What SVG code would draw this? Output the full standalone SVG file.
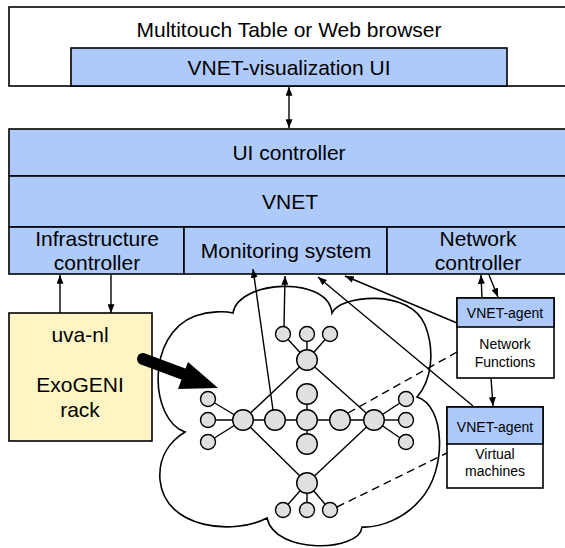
<svg xmlns="http://www.w3.org/2000/svg" width="565" height="548" viewBox="0 0 565 548">
  <style>
    .box { stroke: #000; stroke-width: 1.6; }
    .blue { fill: #aecafb; }
    .white { fill: #fff; }
    .yellow { fill: #fff5c4; }
    .t { font-family: "Liberation Sans", Arial, sans-serif; fill: #000; text-anchor: middle; }
    .big { font-size: 21px; }
    .small { font-size: 14px; }
    .edge { stroke: #000; stroke-width: 1.4; fill: none; }
    .dash { stroke: #000; stroke-width: 1.4; fill: none; stroke-dasharray: 8 5; }
    .n { fill: #e0e0e0; stroke: #000; stroke-width: 1.4; }
    .cloud { fill: #fff; stroke: #000; stroke-width: 1.6; }
  </style>
  <defs>
    <marker id="head" viewBox="0 0 10 8" refX="10" refY="4" markerWidth="9" markerHeight="7" markerUnits="userSpaceOnUse" orient="auto-start-reverse">
      <path d="M0,0 L10,4 L0,8 Z" fill="#000"/>
    </marker>
  </defs>

  <!-- client side -->
  <g id="browser">
    <rect class="box white" x="9" y="7" width="570" height="79"/>
    <text class="t big" x="289" y="37">Multitouch Table or Web browser</text>
  </g>
  <g id="vnet-visualization-ui">
    <rect class="box blue" x="71" y="48" width="436" height="38"/>
    <text class="t big" x="289" y="75">VNET-visualization UI</text>
  </g>

  <!-- control stack -->
  <g id="ui-controller">
    <rect class="box blue" x="9" y="129" width="570" height="47"/>
    <text class="t big" x="289" y="160">UI controller</text>
  </g>
  <g id="vnet">
    <rect class="box blue" x="9" y="176" width="570" height="51"/>
    <text class="t big" x="290" y="209">VNET</text>
  </g>
  <g id="infrastructure-controller">
    <rect class="box blue" x="9" y="227" width="175" height="47"/>
    <text class="t big" x="97" y="246">Infrastructure</text>
    <text class="t big" x="97" y="270">controller</text>
  </g>
  <g id="monitoring-system">
    <rect class="box blue" x="184" y="227" width="203" height="47"/>
    <text class="t big" x="286" y="258">Monitoring system</text>
  </g>
  <g id="network-controller">
    <rect class="box blue" x="387" y="227" width="192" height="47"/>
    <text class="t big" x="478" y="246">Network</text>
    <text class="t big" x="478" y="270">controller</text>
  </g>

  <!-- rack -->
  <g id="uva-nl">
    <rect class="box yellow" x="9" y="313" width="143" height="128"/>
    <text class="t big" x="80" y="342">uva-nl</text>
    <text class="t big" x="80" y="392">ExoGENI</text>
    <text class="t big" x="80" y="417">rack</text>
  </g>

  <!-- virtual network cloud -->
  <g id="cloud">
    <path class="cloud" d="M185,432 C150,420 145,335 195,316 C210,311 225,311 233,313
      C238,280 328,275 332,313
      C340,295 410,288 425,325 C435,350 432,380 417,397
      C445,405 448,470 420,500 C405,518 380,528 362,527
      C360,552 275,555 267,518
      C235,535 165,530 160,480 C158,455 172,440 185,432 Z"/>
  </g>

  <!-- agents -->
  <g id="agent-network-functions">
    <rect class="box white" x="457" y="298" width="97" height="80"/>
    <rect class="box blue" x="457" y="298" width="97" height="29"/>
    <text class="t small" x="505" y="318">VNET-agent</text>
    <text class="t small" x="505" y="349">Network</text>
    <text class="t small" x="505" y="367">Functions</text>
  </g>
  <g id="agent-virtual-machines">
    <rect class="box white" x="447" y="407" width="96" height="81"/>
    <rect class="box blue" x="447" y="407" width="96" height="37"/>
    <text class="t small" x="495" y="432">VNET-agent</text>
    <text class="t small" x="495" y="459">Virtual</text>
    <text class="t small" x="495" y="476">machines</text>
  </g>

  <!-- connectors -->
  <g id="connectors">
    <line class="edge" x1="289" y1="87" x2="289" y2="128" marker-start="url(#head)" marker-end="url(#head)"/>
    <line class="edge" x1="60" y1="313" x2="60" y2="275" marker-end="url(#head)"/>
    <line class="edge" x1="111" y1="275" x2="111" y2="313" marker-end="url(#head)"/>
    <line class="edge" x1="482" y1="298" x2="481" y2="275" marker-end="url(#head)"/>
    <line class="edge" x1="489" y1="275" x2="498" y2="297" marker-end="url(#head)"/>
    <line class="edge" x1="491" y1="378" x2="493" y2="406" marker-end="url(#head)"/>
    <line class="edge" x1="457" y1="323" x2="345" y2="276" marker-end="url(#head)"/>
    <line class="edge" x1="473" y1="406" x2="318" y2="277" marker-end="url(#head)"/>
    <line class="edge" x1="273" y1="410" x2="253" y2="269" marker-end="url(#head)"/>
    <line class="edge" x1="284" y1="327" x2="285" y2="276" marker-end="url(#head)"/>
    <line class="dash" x1="348" y1="413" x2="457" y2="352"/>
    <line class="dash" x1="337" y1="507" x2="447" y2="453"/>
    <!-- deployment arrow from the rack into the cloud -->
    <line x1="143" y1="359" x2="186" y2="375" stroke="#000" stroke-width="12" stroke-linecap="round"/>
    <polygon points="188,362 178,389 218,388" fill="#000"/>
  </g>

  <!-- network topology inside the cloud -->
  <g id="topology">
    <g class="edge">
      <line x1="243" y1="420" x2="374" y2="420"/>
      <line x1="243" y1="420" x2="208" y2="399"/>
      <line x1="243" y1="420" x2="208" y2="420"/>
      <line x1="243" y1="420" x2="208" y2="442"/>
      <line x1="374" y1="420" x2="406" y2="399"/>
      <line x1="374" y1="420" x2="406" y2="420"/>
      <line x1="374" y1="420" x2="406" y2="442"/>
      <line x1="307" y1="360" x2="283" y2="334"/>
      <line x1="307" y1="360" x2="307" y2="334"/>
      <line x1="307" y1="360" x2="330" y2="334"/>
      <line x1="307" y1="483" x2="283" y2="510"/>
      <line x1="307" y1="483" x2="307" y2="510"/>
      <line x1="307" y1="483" x2="330" y2="510"/>
      <line x1="307" y1="360" x2="243" y2="420"/>
      <line x1="307" y1="360" x2="374" y2="420"/>
      <line x1="307" y1="483" x2="243" y2="420"/>
      <line x1="307" y1="483" x2="374" y2="420"/>
      <line x1="307" y1="394" x2="307" y2="444"/>
    </g>
    <g id="hub-left"><circle class="n" cx="243" cy="420" r="10.3"/></g>
    <g id="node-center-left"><circle class="n" cx="275" cy="420" r="10.3"/></g>
    <g id="node-center"><circle class="n" cx="307" cy="420" r="10.3"/></g>
    <g id="node-center-right"><circle class="n" cx="340" cy="420" r="10.3"/></g>
    <g id="hub-right"><circle class="n" cx="374" cy="420" r="10.3"/></g>
    <g id="hub-top"><circle class="n" cx="307" cy="360" r="10.3"/></g>
    <g id="hub-bottom"><circle class="n" cx="307" cy="483" r="10.3"/></g>
    <g id="node-center-up"><circle class="n" cx="307" cy="394" r="10.3"/></g>
    <g id="node-center-down"><circle class="n" cx="307" cy="444" r="10.3"/></g>
    <g id="leaf-l1"><circle class="n" cx="208" cy="399" r="7.5"/></g>
    <g id="leaf-l2"><circle class="n" cx="208" cy="420" r="7.5"/></g>
    <g id="leaf-l3"><circle class="n" cx="208" cy="442" r="7.5"/></g>
    <g id="leaf-r1"><circle class="n" cx="406" cy="399" r="7.5"/></g>
    <g id="leaf-r2"><circle class="n" cx="406" cy="420" r="7.5"/></g>
    <g id="leaf-r3"><circle class="n" cx="406" cy="442" r="7.5"/></g>
    <g id="leaf-t1"><circle class="n" cx="283" cy="334" r="7.5"/></g>
    <g id="leaf-t2"><circle class="n" cx="307" cy="334" r="7.5"/></g>
    <g id="leaf-t3"><circle class="n" cx="330" cy="334" r="7.5"/></g>
    <g id="leaf-b1"><circle class="n" cx="283" cy="510" r="7.5"/></g>
    <g id="leaf-b2"><circle class="n" cx="307" cy="510" r="7.5"/></g>
    <g id="leaf-b3"><circle class="n" cx="330" cy="510" r="7.5"/></g>
  </g>
</svg>
